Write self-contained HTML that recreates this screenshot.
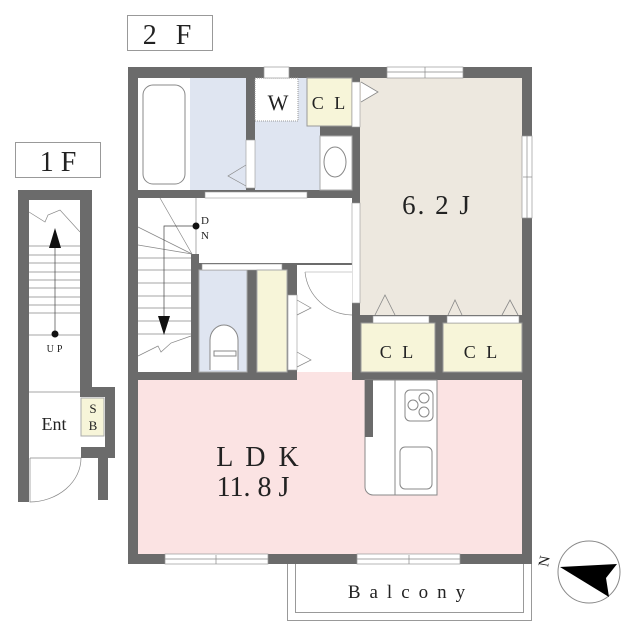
<!DOCTYPE html>
<html><head><meta charset="utf-8"><style>
html,body{margin:0;padding:0;background:#fff;}
svg{display:block;}
text{font-family:"Liberation Serif","Noto Serif CJK SC",serif;fill:#222;}
</style></head><body>
<svg width="640" height="631" viewBox="0 0 640 631" xmlns="http://www.w3.org/2000/svg">
<rect x="127.5" y="15.5" width="85" height="35" fill="#fff" stroke="#999"/>
<text x="170" y="44" font-size="28" text-anchor="middle" letter-spacing="6">2 F</text>
<rect x="15.5" y="142.5" width="85" height="35" fill="#fff" stroke="#999"/>
<text x="58" y="171" font-size="28" text-anchor="middle">1 F</text>

<rect x="128" y="67" width="404" height="497" fill="#6b6b6b"/>
<rect x="138" y="78" width="108" height="112" fill="#fff"/>
<rect x="190" y="78" width="56" height="112" fill="#dfe5f1"/>
<rect x="143" y="85" width="42" height="99" rx="10" fill="none" stroke="#888"/>
<rect x="255" y="78" width="65" height="112" fill="#dfe5f1"/>
<rect x="255" y="78" width="43" height="43" fill="#fff" stroke="#999" stroke-dasharray="1,1"/>
<text x="278" y="110" font-size="22" text-anchor="middle">W</text>
<rect x="320" y="136" width="32" height="54" fill="#fff" stroke="#aaa"/>
<ellipse cx="335" cy="162" rx="11" ry="15" fill="none" stroke="#888"/>
<rect x="307" y="78" width="45" height="48" fill="#f7f5d9" stroke="#999"/>
<text x="330" y="109" font-size="18" text-anchor="middle" letter-spacing="3">C L</text>
<rect x="360" y="78" width="162" height="237" fill="#ede8df"/>
<text x="437" y="214" font-size="27" text-anchor="middle" letter-spacing="2">6. 2 J</text>
<rect x="199" y="198" width="153" height="65" fill="#fff"/>
<rect x="138" y="198" width="53" height="174" fill="#fff"/>
<rect x="191" y="198" width="10" height="56" fill="#fff"/>
<rect x="205" y="192" width="102" height="6" fill="#fff" stroke="#999" stroke-width="0.6"/>
<rect x="246" y="140" width="9" height="48" fill="#fff" stroke="#999" stroke-width="0.6"/>
<polyline points="246,165 228,176 246,186" fill="none" stroke="#888" stroke-width="0.7"/>
<rect x="352" y="203" width="8" height="100" fill="#fff" stroke="#999" stroke-width="0.6"/>
<rect x="352" y="82" width="8" height="45" fill="#fff" stroke="#999" stroke-width="0.6"/>
<polyline points="361,82 378,92 361,102" fill="#fff" stroke="#888" stroke-width="0.8"/>
<g stroke="#888" stroke-width="0.7" fill="none">
<line x1="138" y1="258" x2="191" y2="258"/><line x1="138" y1="270" x2="191" y2="270"/><line x1="138" y1="283" x2="191" y2="283"/>
<line x1="138" y1="296" x2="191" y2="296"/><line x1="138" y1="308" x2="191" y2="308"/><line x1="138" y1="321" x2="191" y2="321"/>
<line x1="138" y1="334" x2="191" y2="334"/>
<line x1="192" y1="254" x2="160" y2="198"/><line x1="192" y1="254" x2="138" y2="227"/><line x1="192" y1="254" x2="138" y2="245"/>
<line x1="196" y1="198" x2="196" y2="254"/>
<polyline points="138,356 158,346 161,352 171,343 191,336"/>
<polyline points="196,226 164,226 164,318" stroke="#444"/>
</g>
<polygon points="158,316 170,316 164,335" fill="#111"/>
<circle cx="196" cy="226" r="3.5" fill="#111"/>
<text x="201" y="224" font-size="11">D</text><text x="201" y="239" font-size="11">N</text>
<rect x="199" y="270" width="48" height="102" fill="#dfe5f1" stroke="#aaa"/>
<rect x="202" y="264" width="80" height="6" fill="#fff" stroke="#999" stroke-width="0.6"/>
<path d="M210,370 V340 A13,14 0 0 1 238,340 V370" fill="#fff" stroke="#888"/>
<rect x="214" y="351" width="22" height="5" fill="none" stroke="#888"/>
<rect x="257" y="270" width="30" height="102" fill="#f7f5d9" stroke="#aaa"/>
<rect x="297" y="265" width="55" height="115" fill="#fff"/>
<rect x="288" y="295" width="9" height="75" fill="#fff" stroke="#999" stroke-width="0.6"/>
<polyline points="297,300 311,308 297,315" fill="none" stroke="#888" stroke-width="0.7"/>
<polyline points="297,352 311,360 297,367" fill="none" stroke="#888" stroke-width="0.7"/>
<path d="M305,272 A48,48 0 0 0 352,315" fill="none" stroke="#888" stroke-width="0.7"/>
<line x1="305" y1="272" x2="352" y2="272" stroke="#999" stroke-width="0.6"/>
<rect x="361" y="323" width="74" height="49" fill="#f7f5d9" stroke="#999"/>
<text x="398" y="358" font-size="18" text-anchor="middle" letter-spacing="3">C L</text>
<rect x="443" y="323" width="79" height="49" fill="#f7f5d9" stroke="#999"/>
<text x="482" y="358" font-size="18" text-anchor="middle" letter-spacing="3">C L</text>
<rect x="373" y="316" width="56" height="7" fill="#fff" stroke="#999" stroke-width="0.6"/>
<rect x="447" y="316" width="72" height="7" fill="#fff" stroke="#999" stroke-width="0.6"/>
<g fill="#ede8df" stroke="#888" stroke-width="0.8">
<polyline points="375,315 385,295 395,315"/><polyline points="448,315 455,300 462,315"/><polyline points="502,315 510,300 518,315"/>
</g>
<rect x="138" y="380" width="384" height="174" fill="#fbe3e3"/>
<rect x="297" y="372" width="55" height="8" fill="#fbe3e3"/>
<path d="M365,380 H437 V495 H373 A8,8 0 0 1 365,487 Z" fill="#fff" stroke="#888"/>
<rect x="365" y="380" width="8" height="57" fill="#6b6b6b"/>
<line x1="395" y1="380" x2="395" y2="495" stroke="#888"/>
<rect x="405" y="390" width="28" height="31" rx="5" fill="none" stroke="#888"/>
<circle cx="413" cy="405" r="5" fill="none" stroke="#888"/><circle cx="424" cy="398" r="5" fill="none" stroke="#888"/><circle cx="424" cy="412" r="5" fill="none" stroke="#888"/>
<rect x="400" y="447" width="32" height="42" rx="5" fill="none" stroke="#888"/>
<text x="259" y="466" font-size="28" text-anchor="middle" letter-spacing="3">L D K</text>
<text x="253" y="496" font-size="28" text-anchor="middle">11. 8 J</text>
<g fill="#fff" stroke="#999" stroke-width="0.7">
<rect x="165" y="554" width="103" height="10"/><rect x="357" y="554" width="103" height="10"/>
<rect x="387" y="67" width="76" height="11"/><rect x="264" y="67" width="25" height="11"/>
<rect x="522" y="136" width="10" height="82"/>
</g>
<g stroke="#888" stroke-width="0.7">
<line x1="165" y1="559" x2="268" y2="559"/><line x1="357" y1="559" x2="460" y2="559"/>
<line x1="387" y1="72" x2="463" y2="72"/><line x1="527" y1="136" x2="527" y2="218"/>
<line x1="216" y1="555" x2="216" y2="564"/><line x1="409" y1="555" x2="409" y2="564"/>
<line x1="425" y1="67" x2="425" y2="78"/><line x1="523" y1="177" x2="532" y2="177"/>
</g>
<path d="M287.5,564 V620.5 H531.5 V564" fill="none" stroke="#999"/>
<path d="M295.5,564 V612.5 H523.5 V564" fill="none" stroke="#999"/>
<text x="411" y="598" font-size="19" text-anchor="middle" letter-spacing="9">Balcony</text>
<circle cx="589" cy="572" r="31" fill="#fff" stroke="#888"/>
<polygon points="560,567 617,564 606,578 609,597" fill="#000"/>
<text x="549" y="562" font-size="15" transform="rotate(-80 549 562)" text-anchor="middle">N</text>

<path d="M18,190 H92 V387 H115 V458 H108 V500 H98 V458 H29 V502 H18 Z" fill="#6b6b6b"/>
<rect x="29" y="200" width="51" height="198" fill="#fff"/>
<rect x="29" y="397" width="76" height="50" fill="#fff"/>
<rect x="29" y="447" width="52" height="11" fill="#fff"/>
<g stroke="#888" stroke-width="0.7" fill="none">
<line x1="29" y1="246" x2="80" y2="246"/><line x1="29" y1="255" x2="80" y2="255"/><line x1="29" y1="263" x2="80" y2="263"/>
<line x1="29" y1="272" x2="80" y2="272"/><line x1="29" y1="280" x2="80" y2="280"/><line x1="29" y1="288" x2="80" y2="288"/>
<line x1="29" y1="297" x2="80" y2="297"/><line x1="29" y1="305" x2="80" y2="305"/><line x1="29" y1="313" x2="80" y2="313"/>
<line x1="29" y1="335" x2="80" y2="335"/><line x1="29" y1="392" x2="80" y2="392"/>
<polyline points="29,212 45,222 48,215 60,210 80,232"/>
<line x1="55" y1="245" x2="55" y2="334" stroke="#444"/>
<path d="M30,458 V502 A52,44 0 0 0 81,458" />
<line x1="30" y1="458" x2="81" y2="458"/>
</g>
<polygon points="49,248 61,248 55,228" fill="#111"/>
<circle cx="55" cy="334" r="3.5" fill="#111"/>
<text x="56" y="352" font-size="10" text-anchor="middle" letter-spacing="3">UP</text>
<rect x="81" y="398" width="23" height="38" fill="#f7f5d9" stroke="#aaa"/>
<text x="93" y="413" font-size="13" text-anchor="middle">S</text>
<text x="93" y="430" font-size="13" text-anchor="middle">B</text>
<text x="54" y="430" font-size="18" text-anchor="middle">Ent</text>
</svg>
</body></html>
